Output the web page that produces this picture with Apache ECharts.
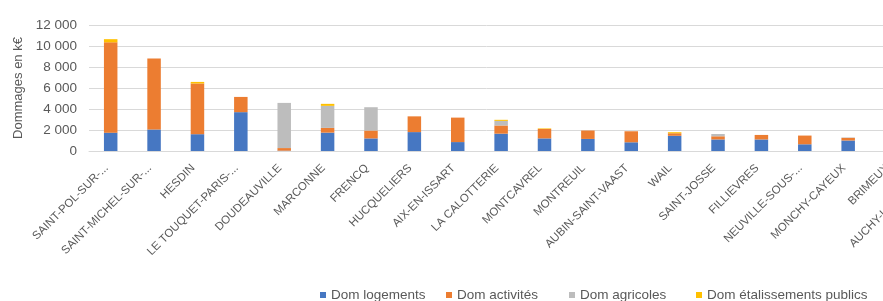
<!DOCTYPE html>
<html>
<head>
<meta charset="utf-8">
<script src="https://cdn.jsdelivr.net/npm/echarts@6/dist/echarts.min.js"></script>
<style>
  html, body { margin: 0; padding: 0; background: #fff; }
  #main { width: 883px; height: 301px; }
</style>
</head>
<body>
<div id="main"></div>
<script>
var communes = [
  'SAINT-POL-SUR-...', 'SAINT-MICHEL-SUR-...', 'HESDIN', 'LE TOUQUET-PARIS-...',
  'DOUDEAUVILLE', 'MARCONNE', 'FRENCQ', 'HUCQUELIERS', 'AIX-EN-ISSART',
  'LA CALOTTERIE', 'MONTCAVREL', 'MONTREUIL', 'AUBIN-SAINT-VAAST', 'WAIL',
  'SAINT-JOSSE', 'FILLIEVRES', 'NEUVILLE-SOUS-...', 'MONCHY-CAYEUX',
  'BRIMEUX', 'AUCHY-LES-HESDIN', 'CONCHIL-LE-TEMPLE'
];
var logements   = [1750, 2050, 1600, 3700,   30, 1750, 1200, 1800,  850, 1650, 1200, 1150,  830, 1450, 1100, 1100,  640, 1000, 900, 800, 700];
var activites   = [8600, 6770, 4830, 1450,  250,  450,  750, 1500, 2330,  780,  900,  800, 1050,  240,  300,  430,  830,  250, 300, 300, 300];
var agricoles   = [   0,    0,    0,    0, 4300, 2100, 2220,    0,    0,  440,    0,    0,    0,    0,  220,    0,    0,   40,   0,   0,   0];
var etablissements = [300,  0,  150,    0,    0,  190,    0,    0,    0,  100,   50,    0,    0,  100,    0,    0,    0,    0,   0,   0,   0];

var names = ['Dom logements', 'Dom activités', 'Dom agricoles', 'Dom étalissements publics'];
var colors = ['#4677C2', '#EC7D31', '#BDBDBD', '#FFC000'];
var values = [logements, activites, agricoles, etablissements];
var legendLeft = [320, 446, 569, 696];

var chart = echarts.init(document.getElementById('main'), null, { renderer: 'canvas' });

var txt = '#595959';
var font = 'Liberation Sans, Arial, sans-serif';

var series = [];
var legends = [];
for (var i = 0; i < names.length; i++) {
  series.push({
    name: names[i],
    type: 'bar',
    stack: 'total',
    barWidth: 13.5,
    itemStyle: { color: colors[i] },
    data: values[i]
  });
  // one legend per item so each sits where the original puts it
  legends.push({
    data: [names[i]],
    left: legendLeft[i],
    top: 288,
    padding: 0,
    icon: 'rect',
    itemWidth: 6,
    itemHeight: 6,
    textStyle: { fontSize: 13.5, color: txt, fontFamily: font }
  });
}

// the grid runs past the right edge: the last communes are cut off like in the source picture
var option = {
  animation: false,
  color: colors,
  textStyle: { fontFamily: font },
  grid: { left: 89, top: 25, height: 126, width: 911, containLabel: false, outerBoundsMode: 'none' },
  legend: legends,
  xAxis: {
    type: 'category',
    data: communes,
    axisLine: { lineStyle: { color: '#d9d9d9' } },
    axisTick: { show: false },
    axisLabel: {
      interval: 0,
      rotate: 45,
      margin: 11,
      padding: [0, 6, 0, 0],
      fontSize: 11.5,
      color: txt,
      fontFamily: font
    }
  },
  yAxis: {
    type: 'value',
    min: 0,
    max: 12000,
    interval: 2000,
    name: 'Dommages en k€',
    nameLocation: 'middle',
    nameRotate: 90,
    nameGap: 64,
    nameTextStyle: { fontSize: 13, color: txt, fontFamily: font },
    axisLine: { show: false },
    axisTick: { show: false },
    splitLine: { lineStyle: { color: '#d9d9d9' } },
    axisLabel: {
      margin: 12,
      fontSize: 13.5,
      color: txt,
      fontFamily: font,
      formatter: function (v) {
        return String(v).replace(/\B(?=(\d{3})+(?!\d))/g, ' ');
      }
    }
  },
  series: series
};

chart.setOption(option);
</script>
</body>
</html>
